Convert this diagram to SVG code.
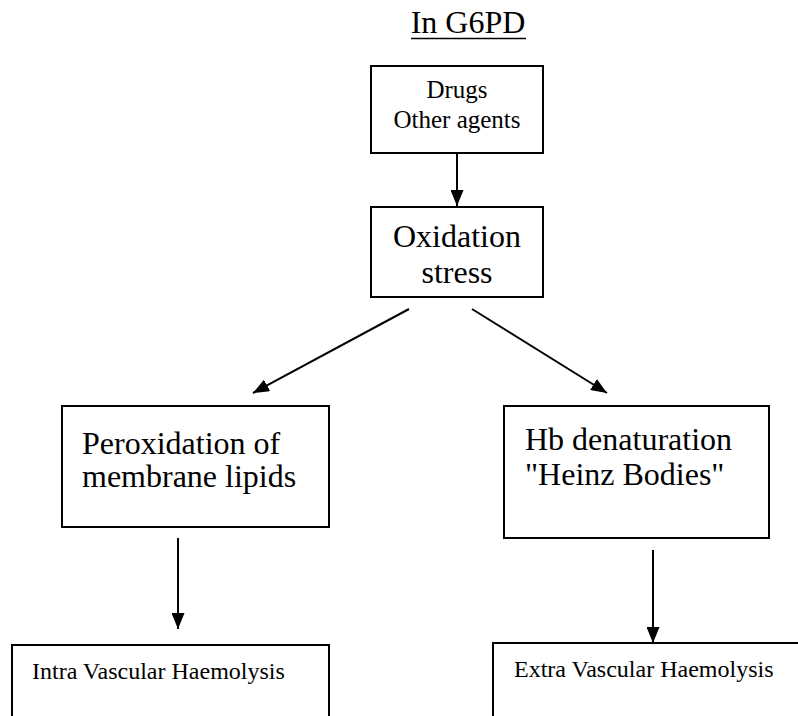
<svg xmlns="http://www.w3.org/2000/svg" width="798" height="716" viewBox="0 0 798 716">
<defs>
<marker id="ah" markerWidth="16" markerHeight="13" refX="16" refY="6.5" orient="auto" markerUnits="userSpaceOnUse">
<path d="M0,0 L16,6.5 L0,13 Z" fill="#000"/>
</marker>
<style>
.box{fill:#fff;stroke:#000;stroke-width:2}
.t{font-family:"Liberation Serif","Times New Roman",serif;fill:#000}
.c{stroke:#000;stroke-width:2;fill:none;marker-end:url(#ah)}
</style>
</defs>
<rect width="798" height="716" fill="#fff"/>
<g id="title">
<text class="t" x="468" y="33" font-size="32" text-anchor="middle">In G6PD</text>
<line x1="411" y1="38.5" x2="526" y2="38.5" stroke="#000" stroke-width="1.5"/>
</g>
<g id="connectors">
<line class="c" x1="457" y1="154" x2="457" y2="206"/>
<line class="c" x1="409" y1="309" x2="253" y2="393"/>
<line class="c" x1="472" y1="309" x2="607" y2="393"/>
<line class="c" x1="178" y1="538" x2="178" y2="629"/>
<line class="c" x1="653" y1="550" x2="653" y2="643"/>
</g>
<g id="drugs">
<rect class="box" x="371" y="66" width="172" height="87"/>
<text class="t" x="457" y="98" font-size="25" text-anchor="middle">Drugs</text>
<text class="t" x="457" y="128" font-size="25" text-anchor="middle">Other agents</text>
</g>
<g id="oxidation">
<rect class="box" x="371" y="207" width="172" height="90"/>
<text class="t" x="457" y="247" font-size="32" text-anchor="middle">Oxidation</text>
<text class="t" x="457" y="283" font-size="32" text-anchor="middle">stress</text>
</g>
<g id="peroxidation">
<rect class="box" x="62" y="406" width="267" height="121"/>
<text class="t" x="82" y="454" font-size="32">Peroxidation of</text>
<text class="t" x="82" y="487" font-size="32">membrane lipids</text>
</g>
<g id="hb">
<rect class="box" x="504" y="406" width="265" height="132"/>
<text class="t" x="525" y="450" font-size="32">Hb denaturation</text>
<text class="t" x="525" y="485" font-size="32">"Heinz Bodies"</text>
</g>
<g id="intra">
<rect class="box" x="12" y="645" width="317" height="90"/>
<text class="t" x="32" y="679" font-size="24">Intra Vascular Haemolysis</text>
</g>
<g id="extra">
<rect class="box" x="493" y="643" width="320" height="90"/>
<text class="t" x="514" y="677" font-size="24">Extra Vascular Haemolysis</text>
</g>
</svg>
